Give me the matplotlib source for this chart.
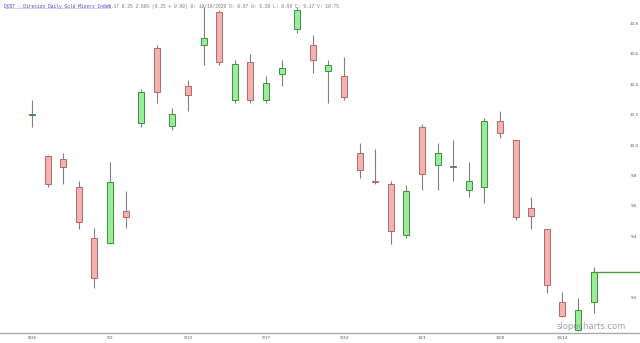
import matplotlib
matplotlib.use("Agg")
from matplotlib import pyplot as plt

# 每日K线数据 (开, 高, 低, 收)
dates = ["8/26", "8/27", "8/28", "8/31", "9/1", "9/2", "9/3", "9/4", "9/8", "9/9",
         "9/10", "9/11", "9/14", "9/15", "9/16", "9/17", "9/18", "9/21", "9/22", "9/23",
         "9/24", "9/25", "9/28", "9/29", "9/30", "10/1", "10/2", "10/5", "10/6", "10/7",
         "10/8", "10/9", "10/12", "10/13", "10/14", "10/15", "10/16"]
opens = [10.20, 9.93, 9.91, 9.73, 9.39, 9.36, 9.57, 10.15, 10.64, 10.13,
         10.39, 10.66, 10.88, 10.30, 10.55, 10.30, 10.47, 10.77, 10.66, 10.49,
         10.46, 9.95, 9.77, 9.75, 9.41, 10.12, 9.87, 9.86, 9.71, 9.73,
         10.16, 10.04, 9.59, 9.45, 8.97, 8.79, 8.97]
highs = [10.30, 9.94, 9.95, 9.77, 9.46, 9.89, 9.70, 10.37, 10.66, 10.25,
         10.43, 10.91, 10.89, 10.56, 10.60, 10.46, 10.56, 10.91, 10.73, 10.56,
         10.58, 10.02, 9.98, 9.77, 9.74, 10.14, 10.02, 10.04, 9.89, 10.18,
         10.23, 10.04, 9.66, 9.45, 9.04, 9.00, 9.20]
lows = [10.12, 9.73, 9.75, 9.45, 9.06, 9.35, 9.46, 10.12, 10.28, 10.10,
        10.23, 10.53, 10.53, 10.28, 10.28, 10.28, 10.39, 10.74, 10.48, 10.28,
        10.30, 9.79, 9.75, 9.35, 9.39, 9.71, 9.71, 9.77, 9.66, 9.62,
        10.05, 9.51, 9.45, 9.03, 8.87, 8.78, 8.90]
closes = [10.21, 9.75, 9.86, 9.50, 9.13, 9.76, 9.53, 10.35, 10.35, 10.21,
          10.33, 10.71, 10.55, 10.54, 10.30, 10.41, 10.51, 10.89, 10.56, 10.53,
          10.32, 9.84, 9.76, 9.44, 9.70, 9.81, 9.95, 9.86, 9.77, 10.16,
          10.08, 9.53, 9.54, 9.08, 8.88, 8.92, 9.17]

tick_idx = [0, 5, 10, 15, 20, 25, 30, 34]
price_ticks = [9.0, 9.4, 9.6, 9.8, 10.0, 10.2, 10.4, 10.6, 10.8]

up_fill, up_edge = "#98ee98", "#3f8f3f"
dn_fill, dn_edge = "#f6b0b0", "#b06a6a"

fig = plt.figure(figsize=(6.4, 3.43), dpi=100)
ax = fig.add_axes([0, 10 / 343, 1, 333 / 343])

x = list(range(len(dates)))
w = 0.385
for i in x:
    o, h, l, c = opens[i], highs[i], lows[i], closes[i]
    if c > o:
        fc, ec = up_fill, up_edge
    elif c < o:
        fc, ec = dn_fill, dn_edge
    else:
        fc, ec = "#888888", "#777777"
    ax.vlines(i, l, h, color="#808080", linewidth=0.8, zorder=1)
    body = max(abs(c - o), 0.006)
    ax.bar(i, body, width=w, bottom=min(o, c), color=fc,
           edgecolor=ec, linewidth=0.7, zorder=2)

# 最新收盘价线
ax.plot([x[-1], 40], [closes[-1], closes[-1]], color="#4c9a3c", linewidth=1.0, zorder=3)

ax.set_xlim(-2.05, 38.97)
ax.set_ylim(8.767, 10.958)

for s in ["top", "left", "right"]:
    ax.spines[s].set_visible(False)
ax.spines["bottom"].set_color("#aaaaaa")
ax.spines["bottom"].set_linewidth(1.0)

ax.set_xticks(tick_idx)
ax.set_xticklabels([dates[i] for i in tick_idx])
ax.tick_params(axis="x", length=0, pad=2, labelsize=3, labelcolor="#555555")
ax.set_yticks([])
for v in price_ticks:
    ax.text(0.991, v, "%.1f" % v, transform=ax.get_yaxis_transform(),
            ha="center", va="center", fontsize=3, color="#555555")

# 标题
fig.text(0.006, 0.989, "DUST - Direxion Daily Gold Miners Index", family="Liberation Mono",
         fontsize=3.3, color="#4444cc", ha="left", va="top")
fig.text(0.006, 0.972, "_" * 39, family="Liberation Mono",
         fontsize=3.3, color="#4444cc", ha="left", va="bottom")
chg = closes[-1] - closes[-2]
info = "%.2f %.2f %.2f%% (%.2f + 0.00) D: 10/16/2020 O: %.2f H: %.2f L: %.2f C: %.2f V: 10.75" % (
    closes[-1], chg, chg / closes[-2] * 100, chg, opens[-1], highs[-1], lows[-1], closes[-1])
fig.text(0.169, 0.989, info, family="Liberation Mono", fontsize=3.3,
         color="#777777", ha="left", va="top")

fig.text(0.87, 0.035, "slopecharts.com", fontsize=6, color="#888888", alpha=0.8,
         ha="left", va="bottom")

fig.savefig("out.png", dpi=100)
